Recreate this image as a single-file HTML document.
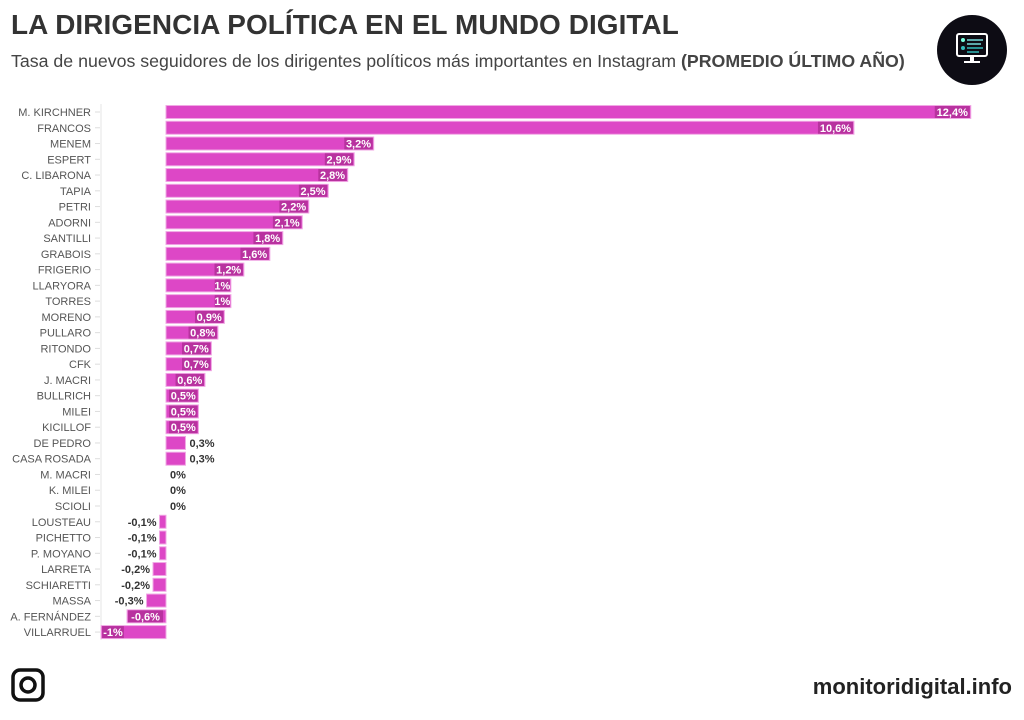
<!DOCTYPE html>
<html><head><meta charset="utf-8"><style>
body{margin:0;width:1024px;height:720px;background:#fff;font-family:"Liberation Sans",sans-serif;overflow:hidden;position:relative}
h1{position:absolute;left:11px;top:9px;margin:0;font-size:27.9px;font-weight:bold;color:#333;letter-spacing:0.1px}
.sub{position:absolute;left:11px;top:51px;font-size:17.75px;color:#444}
.logo{position:absolute;left:937px;top:15px;width:70px;height:70px;border-radius:50%;background:#0d0c14}
.foot{position:absolute;right:12px;top:674px;font-size:22px;font-weight:bold;color:#222}
</style></head><body>
<h1>LA DIRIGENCIA POLÍTICA EN EL MUNDO DIGITAL</h1>
<div class="sub">Tasa de nuevos seguidores de los dirigentes políticos más importantes en Instagram <b>(PROMEDIO ÚLTIMO AÑO)</b></div>
<div class="logo">
<svg width="70" height="70" viewBox="0 0 70 70"><rect x="20" y="19" width="30" height="22" rx="2" fill="none" stroke="#fff" stroke-width="2"/><circle cx="26" cy="25" r="2" fill="#7fd"/><circle cx="26" cy="33" r="2" fill="#3bb"/><line x1="30" y1="25" x2="46" y2="25" stroke="#7dd" stroke-width="1.5"/><line x1="30" y1="29" x2="44" y2="29" stroke="#7dd" stroke-width="1.5"/><line x1="30" y1="33" x2="46" y2="33" stroke="#3bb" stroke-width="1.5"/><line x1="30" y1="37" x2="42" y2="37" stroke="#3bb" stroke-width="1.5"/><rect x="33" y="41" width="4" height="5" fill="#fff"/><rect x="27" y="46" width="16" height="2" fill="#fff"/></svg></div>
<svg id="chart" width="1024" height="650" style="position:absolute;left:0;top:0"></svg>
<svg width="34" height="34" style="position:absolute;left:11px;top:668px" viewBox="0 0 34 34"><rect x="2" y="2" width="30" height="30" rx="7" fill="none" stroke="#111" stroke-width="3.5"/><circle cx="17" cy="17" r="7" fill="none" stroke="#111" stroke-width="3.5"/></svg>
<div class="foot">monitoridigital.info</div>
<script>
const names=["M. KIRCHNER","FRANCOS","MENEM","ESPERT","C. LIBARONA","TAPIA","PETRI","ADORNI","SANTILLI","GRABOIS","FRIGERIO","LLARYORA","TORRES","MORENO","PULLARO","RITONDO","CFK","J. MACRI","BULLRICH","MILEI","KICILLOF","DE PEDRO","CASA ROSADA","M. MACRI","K. MILEI","SCIOLI","LOUSTEAU","PICHETTO","P. MOYANO","LARRETA","SCHIARETTI","MASSA","A. FERNÁNDEZ","VILLARRUEL"];
const values=[12.4,10.6,3.2,2.9,2.8,2.5,2.2,2.1,1.8,1.6,1.2,1,1,0.9,0.8,0.7,0.7,0.6,0.5,0.5,0.5,0.3,0.3,0,0,0,-0.1,-0.1,-0.1,-0.2,-0.2,-0.3,-0.6,-1];
const labels=["12,4%","10,6%","3,2%","2,9%","2,8%","2,5%","2,2%","2,1%","1,8%","1,6%","1,2%","1%","1%","0,9%","0,8%","0,7%","0,7%","0,6%","0,5%","0,5%","0,5%","0,3%","0,3%","0%","0%","0%","-0,1%","-0,1%","-0,1%","-0,2%","-0,2%","-0,3%","-0,6%","-1%"];
const svg=document.getElementById('chart');const NS="http://www.w3.org/2000/svg";
const x0=166,k=64.9,top0=112,step=15.76,bh=13;
const X=v=>x0+v*k, Y=i=>top0+i*step;
function mk(t,a){const e=document.createElementNS(NS,t);for(const q in a)e.setAttribute(q,a[q]);svg.appendChild(e);return e;}
const ax=mk('line',{x1:101,x2:101,y1:104,y2:640,stroke:'#e6e6e6'});


names.forEach((n,i)=>{
 const y=Y(i);
 const t=mk('text',{x:91,y:y+4,'text-anchor':'end','font-size':11,fill:'#555','font-family':'Liberation Sans, sans-serif'});t.textContent=n;
 
 
 mk('line',{x1:95,x2:100,y1:y,y2:y,stroke:'#ddd'});
 const v=values[i];
 if(v!==0){
  const a=Math.min(X(0),X(v)),w=Math.abs(X(v)-X(0));
  const r=mk('rect',{x:a,y:y-bh/2,width:w,height:bh,fill:'#dd47c6',stroke:'#f0a8e4','stroke-width':1});
  
  
 }
 const inside=Math.abs(v)>=0.45;const lw=labels[i].length*6.6+2;
 let lt;
 if(inside){
  const lx=v>0?X(v)-lw-1:X(v)+1;
  mk('rect',{x:lx,y:y-6,width:lw,height:12,fill:'#b8329f'});
  lt=mk('text',{x:lx+lw/2,y:y+4,'text-anchor':'middle','font-size':11,'font-weight':'bold',fill:'#fff','font-family':'Liberation Sans, sans-serif'});
 }else if(v>=0){
  lt=mk('text',{x:X(v)+4,y:y+4,'font-size':11,'font-weight':'bold',fill:'#333','font-family':'Liberation Sans, sans-serif'});
 }else{
  lt=mk('text',{x:X(v)-3,y:y+4,'text-anchor':'end','font-size':11,'font-weight':'bold',fill:'#333','font-family':'Liberation Sans, sans-serif'});
 }
 lt.textContent=labels[i];
 
 
});
</script>
</body></html>
